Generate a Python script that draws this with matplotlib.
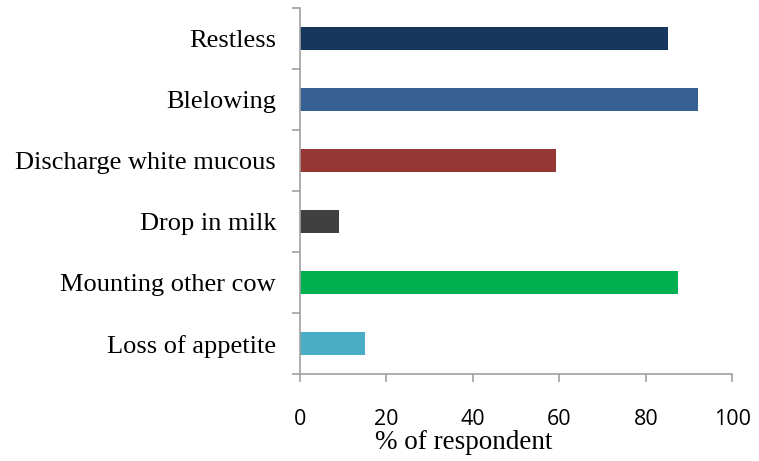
import numpy as np
import matplotlib
matplotlib.use("Agg")
import matplotlib.pyplot as plt

# data (top to bottom as shown)
signs = ["Restless", "Blelowing", "Discharge white mucous", "Drop in milk",
         "Mounting other cow", "Loss of appetite"]
percent = [85.1, 92.0, 59.3, 9.1, 87.4, 15.1]
colors = ["#17375E", "#376092", "#953735", "#404040", "#00B050", "#4BACC6"]
xticks = [0, 20, 40, 60, 80, 100]

fig = plt.figure(figsize=(7.59, 4.61), dpi=100)
ax = fig.add_axes([0.3949, 0.1887, 0.57, 0.7939])

n = len(signs)
ypos = np.arange(n)[::-1]
ax.barh(ypos, percent, height=0.39, color=colors)

ax.set_xlim(0, 100)
ax.set_ylim(-0.5, n - 0.5)

for s in ["top", "right"]:
    ax.spines[s].set_visible(False)
for s in ["left", "bottom"]:
    ax.spines[s].set_color("#A0A0A0")
    ax.spines[s].set_linewidth(1.2)

ax.set_yticks(ypos)
ax.set_yticklabels(signs, family="Liberation Serif", fontsize=19)
ax.set_yticks(np.arange(-0.5, n), minor=True)
ax.tick_params(axis="y", which="major", length=0, pad=17)
ax.tick_params(axis="y", which="minor", length=6, color="#A0A0A0", width=1.2)

ax.set_xticks(xticks)
ax.set_xticklabels([str(t) for t in xticks], family="Open Sans", fontsize=15.5)
ax.tick_params(axis="x", length=6, color="#A0A0A0", width=1.2, pad=19)

ax.set_xlabel("% of respondent", family="Liberation Serif", fontsize=19.5)
ax.xaxis.set_label_coords(0.38, -0.153)

fig.savefig("out.png", dpi=100)
